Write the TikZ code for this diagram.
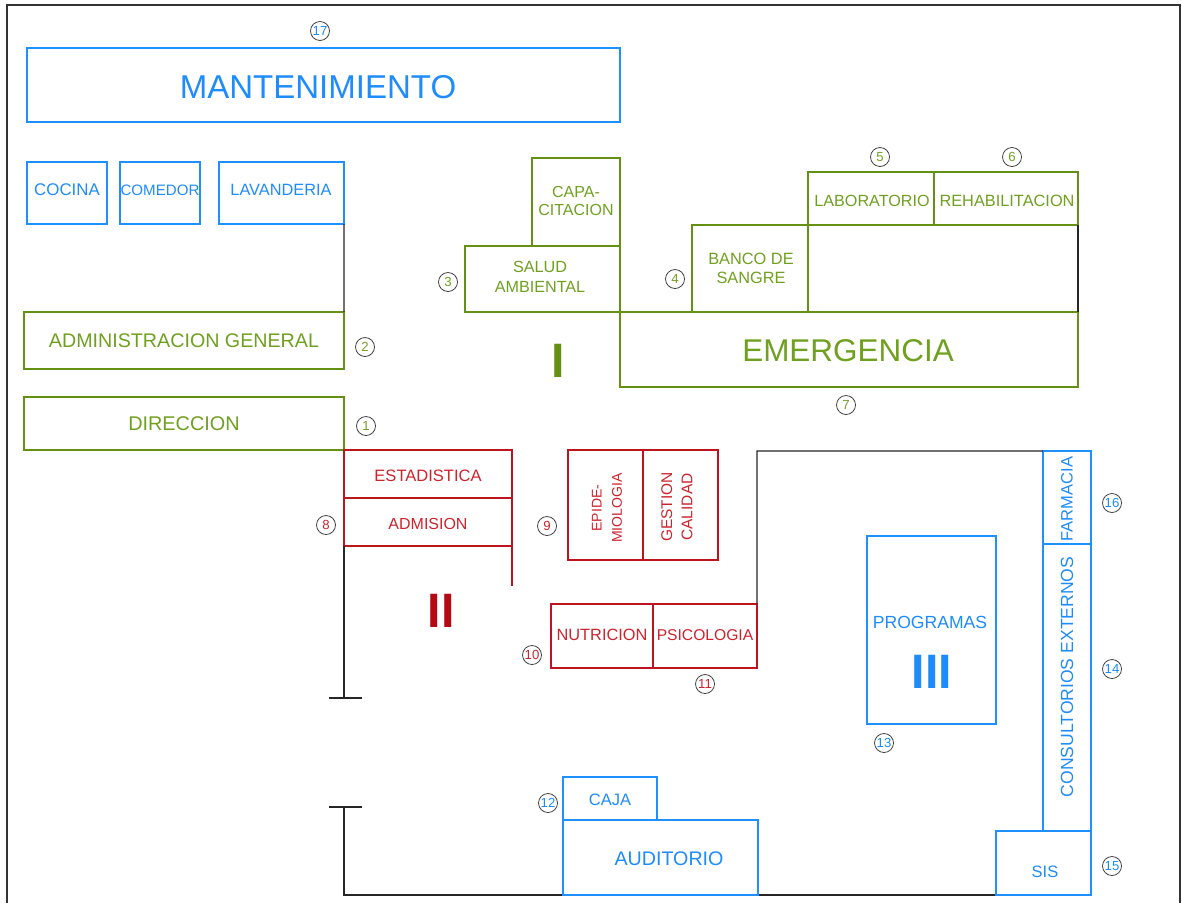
\documentclass[tikz,border=0pt]{standalone}
\usepackage{fontspec}
\setmainfont{Liberation Sans}
\usetikzlibrary{fit}
\definecolor{gline}{RGB}{100,145,20}
\definecolor{gtext}{RGB}{112,160,32}
\definecolor{bline}{RGB}{30,144,255}
\definecolor{btext}{RGB}{30,140,250}
\definecolor{rline}{RGB}{190,20,30}
\definecolor{rtext}{RGB}{205,35,45}
\definecolor{rdark}{RGB}{180,10,20}
\newcommand{\fsz}[1]{\fontsize{#1}{#1}\selectfont}
\begin{document}
\begin{tikzpicture}[x=0.02cm,y=-0.02cm,
  room/.style={inner sep=0pt,outer sep=0pt},
  groom/.style={room,draw=gline,line width=1.1pt},
  broom/.style={room,draw=bline,line width=1.3pt},
  rroom/.style={room,draw=rline,line width=1.1pt},
  lbl/.style={inner sep=0pt,align=center},
  glbl/.style={lbl,text=gtext},
  blbl/.style={lbl,text=btext},
  rlbl/.style={lbl,text=rtext},
  wall/.style={draw=black!85,line width=0.8pt},
  frame/.style={draw=black!80,line width=1pt},
  num/.style={circle,draw=black!75,line width=0.45pt,minimum size=0.38cm,inner sep=0pt,font=\fsz{7.5}},
  gnum/.style={num,text=gtext},
  bnum/.style={num,text=btext},
  rnum/.style={num,text=rtext},
  roman/.style={inner sep=0pt,font=\bfseries\fsz{27.5}}
]
\useasboundingbox (0,0) rectangle (1182,903);
\draw[frame] (7,903) -- (7,5) -- (1180,5) -- (1180,903);

% ---------- blue upper block
\node[broom,fit={(27,48)(620,122)}] (mant) {};
\node[broom,fit={(27,162)(107,224)}] (cocina) {};
\node[broom,fit={(120,162)(200,224)}] (comedor) {};
\node[broom,fit={(219,162)(344,224)}] (lav) {};

% ---------- green block
\node[groom,fit={(24,312)(344,369)}] (adm) {};
\node[groom,fit={(24,397)(344,450)}] (dir) {};
\draw[wall] (lav.south east) -- (adm.north east);

\node[groom,fit={(532,158)(620,246)}] (capa) {};
\node[groom,fit={(465,246)(620,312)}] (salud) {};
\node[groom,fit={(620,312)(1078,387)}] (emer) {};
\node[groom,fit={(692,225)(808,312)}] (banco) {};
\node[groom,fit={(808,172)(934,225)}] (lab) {};
\node[groom,fit={(934,172)(1078,225)}] (rehab) {};
\draw[wall] (rehab.south east) -- (emer.north east);

% ---------- black walls
\coordinate (t1) at (344,698);
\coordinate (t2) at (344,807);
\coordinate (c1) at (757,451);
\coordinate (b1) at (344,895);
\coordinate (r1) at (512,586);

% ---------- red block
\node[rroom,fit={(344,450)(512,498)}] (estad) {};
\node[rroom,fit={(344,498)(512,546)}] (admis) {};
\node[rroom,fit={(568,450)(643,560)}] (epi) {};
\node[rroom,fit={(643,450)(718,560)}] (gest) {};
\node[rroom,fit={(551,604)(653,668)}] (nutri) {};
\node[rroom,fit={(653,604)(757,668)}] (psico) {};
\draw[rline,line width=1.1pt] (admis.south east) -- (r1);

% ---------- blue lower block
\node[broom,fit={(1043,451)(1091,544)}] (farm) {};
\node[broom,fit={(1043,544)(1091,831)}] (cons) {};
\node[broom,fit={(867,536)(996,724)}] (prog) {};
\node[broom,fit={(563,777)(657,820)}] (caja) {};

\draw[wall] (admis.south west) -- (t1);
\draw[wall] ([xshift=-15*0.02cm]t1) -- ([xshift=18*0.02cm]t1);
\draw[wall] ([xshift=-15*0.02cm]t2) -- ([xshift=18*0.02cm]t2);
\draw[wall] (psico.north east) -- (c1) -- (farm.north west);
\node[room,fit={(996,831)(1091,895)}] (sispos) {};
\draw[wall] (t2) -- (b1) -- (sispos.south west);
\node[broom,fit={(563,820)(758,895)}] (audi) {};
\node[broom,fit={(996,831)(1091,895)}] (sis) {};

% ---------- labels
\node[blbl,font=\fsz{18.8}] (tmant) at (318,87) {MANTENIMIENTO};
\node[blbl,font=\fsz{9.6}] (tcoc) at (67,190) {COCINA};
\node[blbl,font=\fsz{8.6}] (tcom) at (160,190) {COMEDOR};
\node[blbl,font=\fsz{9.3}] (tlav) at (281,190) {LAVANDERIA};

\node[glbl,font=\fsz{11.2}] (tadm) at (184,341) {ADMINISTRACION GENERAL};
\node[glbl,font=\fsz{11.3}] (tdir) at (184,424) {DIRECCION};
\node[glbl,font=\fontsize{9.1}{10.8}\selectfont] (tcapa) at (576,201) {CAPA-\\CITACION};
\node[glbl,font=\fontsize{9.2}{11.2}\selectfont] (tsalud) at (540,277) {SALUD\\AMBIENTAL};
\node[glbl,font=\fontsize{9.3}{10.8}\selectfont] (tbanco) at (751,268) {BANCO DE\\SANGRE};
\node[glbl,font=\fsz{9.2}] (tlab) at (872,201) {LABORATORIO};
\node[glbl,font=\fsz{9.3}] (trehab) at (1007,201) {REHABILITACION};
\node[glbl,font=\fsz{17.9}] (temer) at (848,351) {EMERGENCIA};
\node[roman,text=gline] (rI) at (558,361) {I};

\node[rlbl,font=\fsz{9.4}] (test) at (428,476) {ESTADISTICA};
\node[rlbl,font=\fsz{9.1}] (tadmis) at (428,524) {ADMISION};
\node[rlbl,font=\fontsize{8}{11.5}\selectfont,rotate=90] (tepi) at (607,508) {EPIDE-\\MIOLOGIA};
\node[rlbl,font=\fontsize{8.8}{11.5}\selectfont,rotate=90] (tgest) at (677,507) {GESTION\\CALIDAD};
\node[rlbl,font=\fsz{9.3}] (tnut) at (602,635) {NUTRICION};
\node[rlbl,font=\fsz{8.9}] (tpsi) at (705,635) {PSICOLOGIA};
\node[roman,text=rdark] (rII) at (441,611) {II};

\node[blbl,font=\fsz{10}] (tprog) at (930,622) {PROGRAMAS};
\node[roman,text=btext] (rIII) at (932,672) {III};
\node[blbl,font=\fsz{9.4},rotate=90] (tfarm) at (1067,499) {FARMACIA};
\node[blbl,font=\fsz{10},rotate=90] (tcons) at (1067,677) {CONSULTORIOS EXTERNOS};
\node[blbl,font=\fsz{9.4}] (tsis) at (1045,872) {SIS};
\node[blbl,font=\fsz{9.4}] (tcaja) at (610,800) {CAJA};
\node[blbl,font=\fsz{11.2}] (taudi) at (669,859) {AUDITORIO};

% ---------- numbers
\node[bnum] (n17) at (320,31) {17};
\node[gnum] (n2) at (365,347) {2};
\node[gnum] (n1) at (366,426) {1};
\node[gnum] (n3) at (448,282) {3};
\node[gnum] (n4) at (675,279) {4};
\node[gnum] (n5) at (880,157) {5};
\node[gnum] (n6) at (1012,157) {6};
\node[gnum] (n7) at (846,405) {7};
\node[rnum] (n8) at (326,525) {8};
\node[rnum] (n9) at (547,526) {9};
\node[rnum] (n10) at (532,655) {10};
\node[rnum] (n11) at (705,684) {11};
\node[bnum] (n12) at (548,803) {12};
\node[bnum] (n13) at (884,743) {13};
\node[bnum] (n14) at (1112,669) {14};
\node[bnum] (n15) at (1112,866) {15};
\node[bnum] (n16) at (1112,503) {16};
\end{tikzpicture}
\end{document}
